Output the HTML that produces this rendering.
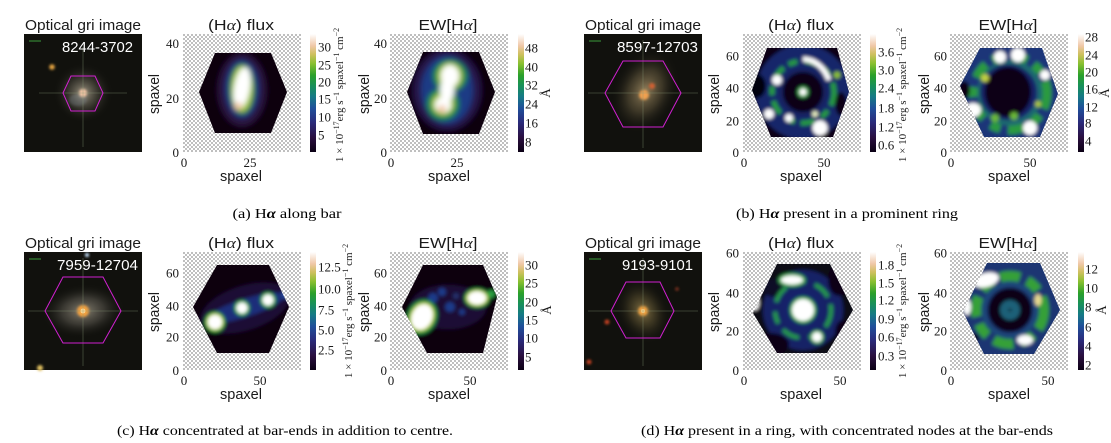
<!DOCTYPE html>
<html><head><meta charset="utf-8"><style>
html,body{margin:0;padding:0;background:#fff;}
svg{display:block;}
.ti{font-family:"Liberation Sans",sans-serif;font-size:14.5px;fill:#1a1a1a;}
.al{font-family:"Liberation Serif",serif;font-style:italic;}
.alb{font-family:"Liberation Serif",serif;font-style:italic;font-weight:bold;}
.tk{font-family:"Liberation Serif",serif;font-size:13px;fill:#1a1a1a;}
.cb{font-family:"Liberation Serif",serif;font-size:11px;fill:#1a1a1a;}
.cap{font-family:"Liberation Serif",serif;font-size:14px;fill:#000;}
.id{font-family:"Liberation Sans",sans-serif;font-size:14.5px;fill:#fff;}
</style></head><body>
<svg width="1111" height="443" viewBox="0 0 1111 443" xmlns="http://www.w3.org/2000/svg">
<defs>
<pattern id="chk" width="4" height="4" patternUnits="userSpaceOnUse"><rect width="4" height="4" fill="#fff"/><rect width="2" height="2" fill="#bfbfbf"/><rect x="2" y="2" width="2" height="2" fill="#bfbfbf"/></pattern>
<linearGradient id="cmap" x1="0" y1="1" x2="0" y2="0">
<stop offset="0" stop-color="#0b0014"/><stop offset="0.12" stop-color="#2a0f3f"/><stop offset="0.25" stop-color="#2a2a7a"/><stop offset="0.37" stop-color="#1f4f9a"/><stop offset="0.47" stop-color="#157a85"/><stop offset="0.56" stop-color="#18905a"/><stop offset="0.65" stop-color="#2aa02a"/><stop offset="0.75" stop-color="#8ac030"/><stop offset="0.83" stop-color="#d0c060"/><stop offset="0.9" stop-color="#f0c8a8"/><stop offset="1" stop-color="#ffffff"/>
</linearGradient>
<radialGradient id="gA"><stop offset="0" stop-color="#a49c88" stop-opacity="0.95"/><stop offset="0.45" stop-color="#5e5a4e" stop-opacity="0.6"/><stop offset="1" stop-color="#11110d" stop-opacity="0"/></radialGradient>
<radialGradient id="gB"><stop offset="0" stop-color="#9a8660" stop-opacity="0.95"/><stop offset="0.5" stop-color="#5a5038" stop-opacity="0.6"/><stop offset="1" stop-color="#11110d" stop-opacity="0"/></radialGradient>
<radialGradient id="gC"><stop offset="0" stop-color="#8e8878" stop-opacity="0.95"/><stop offset="0.5" stop-color="#55524a" stop-opacity="0.6"/><stop offset="1" stop-color="#11110d" stop-opacity="0"/></radialGradient>
<radialGradient id="gD"><stop offset="0" stop-color="#8a7848" stop-opacity="0.95"/><stop offset="0.5" stop-color="#4a4228" stop-opacity="0.6"/><stop offset="1" stop-color="#11110d" stop-opacity="0"/></radialGradient>
<filter id="b1" x="-50%" y="-50%" width="200%" height="200%"><feGaussianBlur stdDeviation="1.2"/></filter>
<filter id="b2" x="-20%" y="-20%" width="140%" height="140%"><feGaussianBlur stdDeviation="1.8"/></filter>
<filter id="b3" x="-20%" y="-20%" width="140%" height="140%"><feGaussianBlur stdDeviation="2.6"/></filter>
<clipPath id="hA1"><polygon points="32,19 88,19 104,58 88,99 32,99 16,58"/></clipPath>
<clipPath id="hA2"><polygon points="33,18 89,18 105,58 89,100 33,100 17,58"/></clipPath>
<clipPath id="hB1"><polygon points="24,14 94,14 106,58 90,103 28,103 9,56"/></clipPath>
<clipPath id="hB2"><polygon points="30,14 92,14 108,60 90,103 34,103 10,52"/></clipPath>
<clipPath id="hC1"><polygon points="34,13 86,13 106,55 86,101 34,101 10,55"/></clipPath>
<clipPath id="hC2"><polygon points="33,13 93,13 107,45 93,101 37,101 12,55"/></clipPath>
<clipPath id="hD1"><polygon points="34,12 87,12 110,58 84,101 34,101 10,61"/></clipPath>
<clipPath id="hD2"><polygon points="37,11 90,11 110,58 84,102 34,102 13,60"/></clipPath>
</defs>
<rect width="1111" height="443" fill="#fff"/>

<!-- ================= PANEL A ================= -->
<g>
<text class="ti" x="83" y="30" text-anchor="middle" textLength="116" lengthAdjust="spacingAndGlyphs">Optical gri image</text>
<rect x="24" y="34" width="118" height="118" fill="#11110d"/>
<circle cx="83" cy="93" r="30" fill="url(#gA)"/>
<ellipse cx="78" cy="100" rx="9" ry="6" fill="#8898a8" opacity="0.25" filter="url(#b1)"/>
<circle cx="83" cy="93" r="4" fill="#f2c4a4" filter="url(#b1)"/>
<circle cx="52" cy="67" r="2.8" fill="#e0a040" filter="url(#b1)"/>
<line x1="39" y1="93" x2="127" y2="93" stroke="#8a9a78" stroke-width="0.8" opacity="0.45"/>
<line x1="83" y1="47" x2="83" y2="147" stroke="#8a9a78" stroke-width="0.8" opacity="0.45"/>
<polygon points="63,93 71,76 95,76 103,93 95,111 71,111" fill="none" stroke="#d020d0" stroke-width="1"/>
<line x1="29" y1="41" x2="41" y2="41" stroke="#3a9a3a" stroke-width="1"/>
<text class="id" x="133" y="52" text-anchor="end" textLength="71" lengthAdjust="spacingAndGlyphs">8244-3702</text>

<text class="ti" x="241" y="30" text-anchor="middle" textLength="66" lengthAdjust="spacingAndGlyphs">(H<tspan class="al">α</tspan>) flux</text>
<g transform="translate(183,34)">
<rect width="118" height="118" fill="url(#chk)"/>
<g clip-path="url(#hA1)"><g filter="url(#b3)">
<rect x="-10" y="-10" width="140" height="140" fill="#0d0511"/>
<ellipse cx="59" cy="56" rx="24" ry="36" fill="#2b1240"/>
<ellipse cx="59" cy="55" rx="17" ry="29" fill="#1d3582"/>
<ellipse cx="59" cy="55" rx="12.5" ry="25" fill="#1f8a3c"/>
<ellipse cx="59" cy="55" rx="10.5" ry="23" fill="#a8c83a"/>
<ellipse cx="59" cy="54" rx="8" ry="21" fill="#fff" transform="rotate(10 59 54)"/>
<circle cx="55" cy="72" r="4" fill="#f0c8a8"/>
</g></g>
</g>
<text class="tk" x="179" y="157" text-anchor="end">0</text>
<text class="tk" x="179" y="103" text-anchor="end">20</text>
<text class="tk" x="179" y="48" text-anchor="end">40</text>
<text class="tk" x="184" y="167" text-anchor="middle">0</text>
<text class="tk" x="250" y="167" text-anchor="middle">25</text>
<text class="ti" x="241" y="181" text-anchor="middle" textLength="42" lengthAdjust="spacingAndGlyphs">spaxel</text>
<text class="ti" transform="translate(159,94) rotate(-90)" text-anchor="middle" textLength="40" lengthAdjust="spacingAndGlyphs">spaxel</text>
<rect x="310" y="34" width="6" height="118" fill="url(#cmap)"/>
<text class="tk" x="318" y="51.5">30</text><text class="tk" x="318" y="69.5">25</text><text class="tk" x="318" y="86.5">20</text><text class="tk" x="318" y="103.5">15</text><text class="tk" x="318" y="121.5">10</text><text class="tk" x="318" y="139.5">5</text>
<text class="cb" transform="translate(343,95) rotate(-90)" text-anchor="middle">1 × 10<tspan dy="-4" font-size="8">−17</tspan><tspan dy="4">erg s</tspan><tspan dy="-4" font-size="8">−1</tspan><tspan dy="4"> spaxel</tspan><tspan dy="-4" font-size="8">−1</tspan><tspan dy="4"> cm</tspan><tspan dy="-4" font-size="8">−2</tspan></text>

<text class="ti" x="448" y="30" text-anchor="middle" textLength="59" lengthAdjust="spacingAndGlyphs">EW[H<tspan class="al">α</tspan>]</text>
<g transform="translate(390,34)">
<rect width="118" height="118" fill="url(#chk)"/>
<g clip-path="url(#hA2)"><g filter="url(#b3)">
<rect x="-10" y="-10" width="140" height="140" fill="#0d0511"/>
<ellipse cx="57" cy="56" rx="34" ry="40" fill="#25154a"/>
<ellipse cx="57" cy="56" rx="26" ry="34" fill="#1d3a85"/>
<ellipse cx="60" cy="42" rx="17" ry="16" fill="#1f8f45"/>
<ellipse cx="53" cy="70" rx="16" ry="16" fill="#1f8f45"/>
<ellipse cx="60" cy="42" rx="12" ry="13" fill="#b0c840"/>
<ellipse cx="53" cy="70" rx="11" ry="11" fill="#b0c840"/>
<ellipse cx="60" cy="42" rx="9" ry="11" fill="#fff"/>
<ellipse cx="53" cy="71" rx="8" ry="8" fill="#fff"/>
<ellipse cx="57" cy="56" rx="7" ry="12" fill="#fff"/>
<circle cx="52" cy="75" r="4" fill="#f0c8a8"/>
</g></g>
</g>
<text class="tk" x="387" y="157" text-anchor="end">0</text>
<text class="tk" x="387" y="103" text-anchor="end">20</text>
<text class="tk" x="387" y="48" text-anchor="end">40</text>
<text class="tk" x="391" y="167" text-anchor="middle">0</text>
<text class="tk" x="457" y="167" text-anchor="middle">25</text>
<text class="ti" x="449" y="181" text-anchor="middle" textLength="42" lengthAdjust="spacingAndGlyphs">spaxel</text>
<text class="ti" transform="translate(369,94) rotate(-90)" text-anchor="middle" textLength="40" lengthAdjust="spacingAndGlyphs">spaxel</text>
<rect x="518" y="34" width="6" height="118" fill="url(#cmap)"/>
<text class="tk" x="525" y="52.5">48</text><text class="tk" x="525" y="71.5">40</text><text class="tk" x="525" y="89.5">32</text><text class="tk" x="525" y="108.5">24</text><text class="tk" x="525" y="127.5">16</text><text class="tk" x="525" y="146.5">8</text>
<text class="tk" transform="translate(550,93) rotate(-90)" text-anchor="middle">Å</text>

<text class="cap" x="287" y="218" text-anchor="middle" textLength="109" lengthAdjust="spacingAndGlyphs">(a) H<tspan class="alb">α</tspan> along bar</text>
</g>

<!-- ================= PANEL B ================= -->
<g transform="translate(560,0)">
<text class="ti" x="83" y="30" text-anchor="middle" textLength="116" lengthAdjust="spacingAndGlyphs">Optical gri image</text>
<rect x="24" y="34" width="118" height="118" fill="#11110d"/>
<ellipse cx="85" cy="91" rx="32" ry="44" fill="url(#gB)" transform="rotate(25 85 91)"/>
<circle cx="84" cy="95" r="5" fill="#f0a050" filter="url(#b1)"/>
<circle cx="92" cy="86" r="3" fill="#d06030" filter="url(#b1)"/>
<line x1="28" y1="93" x2="138" y2="93" stroke="#8a9a78" stroke-width="0.8" opacity="0.45"/>
<line x1="83" y1="40" x2="83" y2="148" stroke="#8a9a78" stroke-width="0.8" opacity="0.45"/>
<polygon points="45,93 63,61 103,61 121,93 103,127 63,127" fill="none" stroke="#d020d0" stroke-width="1"/>
<line x1="29" y1="41" x2="41" y2="41" stroke="#3a9a3a" stroke-width="1"/>
<text class="id" x="138" y="52" text-anchor="end" textLength="81" lengthAdjust="spacingAndGlyphs">8597-12703</text>

<text class="ti" x="241" y="30" text-anchor="middle" textLength="66" lengthAdjust="spacingAndGlyphs">(H<tspan class="al">α</tspan>) flux</text>
<g transform="translate(183,34)">
<rect width="118" height="118" fill="url(#chk)"/>
<g clip-path="url(#hB1)"><g filter="url(#b2)">
<rect x="-10" y="-10" width="140" height="140" fill="#0c0616"/>
<circle cx="60" cy="58" r="34" fill="none" stroke="#18266a" stroke-width="26"/>
<circle cx="60" cy="58" r="31" fill="none" stroke="#279a3f" stroke-width="5" stroke-dasharray="14 6 9 8"/>
<circle cx="60" cy="58" r="22" fill="none" stroke="#162460" stroke-width="4"/>
<circle cx="60" cy="58" r="20" fill="#0b0614"/>
<circle cx="60" cy="58" r="6" fill="#2a9a40"/>
<circle cx="60" cy="58" r="3.5" fill="#fff"/>
<path d="M 60 25 Q 78 26 86 46" fill="none" stroke="#fff" stroke-width="5"/>
<circle cx="34" cy="46" r="5" fill="#fff"/>
<circle cx="26" cy="80" r="5" fill="#fff"/>
<circle cx="46" cy="84" r="4" fill="#fff"/>
<circle cx="77" cy="94" r="7.5" fill="#fff"/>
<circle cx="94" cy="41" r="3.5" fill="#8ac030"/>
<circle cx="72" cy="80" r="3" fill="#e8f0c0"/>
<ellipse cx="14" cy="52" rx="9" ry="12" fill="#05020a"/>
<ellipse cx="98" cy="70" rx="6" ry="12" fill="#0c0616"/>
</g></g>
</g>
<text class="tk" x="179" y="157" text-anchor="end">0</text>
<text class="tk" x="179" y="125.5" text-anchor="end">20</text>
<text class="tk" x="179" y="92.5" text-anchor="end">40</text>
<text class="tk" x="179" y="60.5" text-anchor="end">60</text>
<text class="tk" x="184" y="167" text-anchor="middle">0</text>
<text class="tk" x="264" y="167" text-anchor="middle">50</text>
<text class="ti" x="241" y="181" text-anchor="middle" textLength="42" lengthAdjust="spacingAndGlyphs">spaxel</text>
<text class="ti" transform="translate(159,94) rotate(-90)" text-anchor="middle" textLength="40" lengthAdjust="spacingAndGlyphs">spaxel</text>
<rect x="310" y="34" width="6" height="118" fill="url(#cmap)"/>
<text class="tk" x="318" y="56.5">3.6</text><text class="tk" x="318" y="74.5">3.0</text><text class="tk" x="318" y="92.5">2.4</text><text class="tk" x="318" y="112.5">1.8</text><text class="tk" x="318" y="131.5">1.2</text><text class="tk" x="318" y="149.5">0.6</text>
<text class="cb" transform="translate(346,95) rotate(-90)" text-anchor="middle">1 × 10<tspan dy="-4" font-size="8">−17</tspan><tspan dy="4">erg s</tspan><tspan dy="-4" font-size="8">−1</tspan><tspan dy="4"> spaxel</tspan><tspan dy="-4" font-size="8">−1</tspan><tspan dy="4"> cm</tspan><tspan dy="-4" font-size="8">−2</tspan></text>

<text class="ti" x="448" y="30" text-anchor="middle" textLength="59" lengthAdjust="spacingAndGlyphs">EW[H<tspan class="al">α</tspan>]</text>
<g transform="translate(390,34)">
<rect width="118" height="118" fill="url(#chk)"/>
<g clip-path="url(#hB2)"><g filter="url(#b2)">
<rect x="-10" y="-10" width="140" height="140" fill="#1a3478"/>
<circle cx="60" cy="59" r="37" fill="none" stroke="#2a9a40" stroke-width="9" stroke-dasharray="16 8 10 10"/>
<circle cx="60" cy="59" r="30" fill="none" stroke="#1e6a70" stroke-width="5"/>
<circle cx="58" cy="58" r="28" fill="#182266"/>
<ellipse cx="58" cy="58" rx="23" ry="25" fill="#0c0614"/>
<circle cx="50" cy="23" r="6" fill="#fff"/>
<circle cx="68" cy="21" r="7" fill="#fff"/>
<circle cx="95" cy="41" r="5" fill="#fff"/>
<ellipse cx="23" cy="76" rx="8" ry="7" fill="#fff"/>
<circle cx="80" cy="94" r="7" fill="#fff"/>
<circle cx="35" cy="44" r="4" fill="#c0d040"/>
<circle cx="64" cy="82" r="4" fill="#6ab838"/>
<circle cx="45" cy="84" r="4" fill="#6ab838"/>
<circle cx="88" cy="70" r="3" fill="#b0c840"/>
<ellipse cx="14" cy="56" rx="6" ry="9" fill="#0c0614"/>
</g></g>
</g>
<text class="tk" x="387" y="157" text-anchor="end">0</text>
<text class="tk" x="387" y="125.5" text-anchor="end">20</text>
<text class="tk" x="387" y="92.5" text-anchor="end">40</text>
<text class="tk" x="387" y="60.5" text-anchor="end">60</text>
<text class="tk" x="391" y="167" text-anchor="middle">0</text>
<text class="tk" x="470" y="167" text-anchor="middle">50</text>
<text class="ti" x="449" y="181" text-anchor="middle" textLength="42" lengthAdjust="spacingAndGlyphs">spaxel</text>
<text class="ti" transform="translate(369,94) rotate(-90)" text-anchor="middle" textLength="40" lengthAdjust="spacingAndGlyphs">spaxel</text>
<rect x="518" y="34" width="6" height="118" fill="url(#cmap)"/>
<text class="tk" x="525" y="41.5">28</text><text class="tk" x="525" y="59.5">24</text><text class="tk" x="525" y="76.5">20</text><text class="tk" x="525" y="93.5">16</text><text class="tk" x="525" y="111.5">12</text><text class="tk" x="525" y="127.5">8</text><text class="tk" x="525" y="145.5">4</text>
<text class="tk" transform="translate(549,93) rotate(-90)" text-anchor="middle">Å</text>

<text class="cap" x="287" y="218" text-anchor="middle" textLength="222" lengthAdjust="spacingAndGlyphs">(b) H<tspan class="alb">α</tspan> present in a prominent ring</text>
</g>

<!-- ================= PANEL C ================= -->
<g transform="translate(0,218)">
<text class="ti" x="83" y="30" text-anchor="middle" textLength="116" lengthAdjust="spacingAndGlyphs">Optical gri image</text>
<rect x="24" y="34" width="118" height="118" fill="#11110d"/>
<ellipse cx="83" cy="93" rx="42" ry="27" fill="url(#gC)" transform="rotate(-5 83 93)"/>
<circle cx="83" cy="93" r="6" fill="#f0a040" filter="url(#b1)"/>
<circle cx="83" cy="93" r="2.5" fill="#ffd890"/>
<circle cx="87" cy="37" r="2" fill="#c8e4ff" filter="url(#b1)"/>
<circle cx="40" cy="150" r="3" fill="#e0c060" filter="url(#b1)"/>
<line x1="28" y1="93" x2="138" y2="93" stroke="#8a9a78" stroke-width="0.8" opacity="0.45"/>
<line x1="83" y1="40" x2="83" y2="148" stroke="#8a9a78" stroke-width="0.8" opacity="0.45"/>
<polygon points="45,93 63,59 103,59 121,93 103,125 63,125" fill="none" stroke="#d020d0" stroke-width="1"/>
<line x1="29" y1="41" x2="41" y2="41" stroke="#3a9a3a" stroke-width="1"/>
<text class="id" x="138" y="52" text-anchor="end" textLength="81" lengthAdjust="spacingAndGlyphs">7959-12704</text>

<text class="ti" x="241" y="30" text-anchor="middle" textLength="66" lengthAdjust="spacingAndGlyphs">(H<tspan class="al">α</tspan>) flux</text>
<g transform="translate(183,34)">
<rect width="118" height="118" fill="url(#chk)"/>
<g clip-path="url(#hC1)"><g filter="url(#b2)">
<rect x="-10" y="-10" width="140" height="140" fill="#0d0511"/>
<ellipse cx="62" cy="56" rx="46" ry="22" fill="#1e0e36" transform="rotate(-18 62 56)"/>
<ellipse cx="62" cy="56" rx="42" ry="9" fill="#1b2e7a" transform="rotate(-18 62 56)"/>
<circle cx="32" cy="70" r="10.5" fill="#1f9a40"/>
<circle cx="32" cy="70" r="8.5" fill="#c0d040"/>
<circle cx="32" cy="70" r="7" fill="#fff"/>
<circle cx="59" cy="56" r="8" fill="#1f9a40"/>
<circle cx="59" cy="56" r="5.5" fill="#fff"/>
<circle cx="85" cy="48" r="8" fill="#1f9a40"/>
<circle cx="85" cy="48" r="5.5" fill="#fff"/>
<circle cx="104" cy="42" r="5" fill="#2a50a0"/>
</g></g>
</g>
<text class="tk" x="179" y="157" text-anchor="end">0</text>
<text class="tk" x="179" y="123.5" text-anchor="end">20</text>
<text class="tk" x="179" y="92.5" text-anchor="end">40</text>
<text class="tk" x="179" y="59.5" text-anchor="end">60</text>
<text class="tk" x="184" y="167" text-anchor="middle">0</text>
<text class="tk" x="260" y="167" text-anchor="middle">50</text>
<text class="ti" x="241" y="181" text-anchor="middle" textLength="42" lengthAdjust="spacingAndGlyphs">spaxel</text>
<text class="ti" transform="translate(159,94) rotate(-90)" text-anchor="middle" textLength="40" lengthAdjust="spacingAndGlyphs">spaxel</text>
<rect x="310" y="34" width="6" height="118" fill="url(#cmap)"/>
<text class="tk" x="318" y="53.5">12.5</text><text class="tk" x="318" y="75.5">10.0</text><text class="tk" x="318" y="96.5">7.5</text><text class="tk" x="318" y="116.5">5.0</text><text class="tk" x="318" y="136.5">2.5</text>
<text class="cb" transform="translate(352,93) rotate(-90)" text-anchor="middle">1 × 10<tspan dy="-4" font-size="8">−17</tspan><tspan dy="4">erg s</tspan><tspan dy="-4" font-size="8">−1</tspan><tspan dy="4"> spaxel</tspan><tspan dy="-4" font-size="8">−1</tspan><tspan dy="4"> cm</tspan><tspan dy="-4" font-size="8">−2</tspan></text>

<text class="ti" x="448" y="30" text-anchor="middle" textLength="59" lengthAdjust="spacingAndGlyphs">EW[H<tspan class="al">α</tspan>]</text>
<g transform="translate(390,34)">
<rect width="118" height="118" fill="url(#chk)"/>
<g clip-path="url(#hC2)"><g filter="url(#b2)">
<rect x="-10" y="-10" width="140" height="140" fill="#0d0511"/>
<ellipse cx="58" cy="55" rx="38" ry="22" fill="#1c0e34"/>
<circle cx="43" cy="46" r="5" fill="#1d3a8a"/>
<circle cx="60" cy="55" r="5" fill="#1d3a8a"/>
<circle cx="52" cy="40" r="4" fill="#1d3a8a"/>
<circle cx="72" cy="60" r="3" fill="#1d3a8a"/>
<circle cx="66" cy="44" r="3" fill="#22306e"/>
<ellipse cx="32" cy="65" rx="15" ry="18" fill="#1f8f45" transform="rotate(25 32 65)"/>
<ellipse cx="32" cy="65" rx="12" ry="15" fill="#c0d040" transform="rotate(25 32 65)"/>
<ellipse cx="32" cy="65" rx="10" ry="13" fill="#fff" transform="rotate(25 32 65)"/>
<ellipse cx="87" cy="46" rx="13" ry="10" fill="#1f8f45"/>
<ellipse cx="87" cy="46" rx="11" ry="8" fill="#c0d040"/>
<ellipse cx="87" cy="46" rx="9" ry="6.5" fill="#fff"/>
<circle cx="101" cy="42" r="4" fill="#2aa040"/>
</g></g>
</g>
<text class="tk" x="387" y="157" text-anchor="end">0</text>
<text class="tk" x="387" y="123.5" text-anchor="end">20</text>
<text class="tk" x="387" y="92.5" text-anchor="end">40</text>
<text class="tk" x="387" y="59.5" text-anchor="end">60</text>
<text class="tk" x="391" y="167" text-anchor="middle">0</text>
<text class="tk" x="470" y="167" text-anchor="middle">50</text>
<text class="ti" x="449" y="181" text-anchor="middle" textLength="42" lengthAdjust="spacingAndGlyphs">spaxel</text>
<text class="ti" transform="translate(369,94) rotate(-90)" text-anchor="middle" textLength="40" lengthAdjust="spacingAndGlyphs">spaxel</text>
<rect x="518" y="34" width="6" height="118" fill="url(#cmap)"/>
<text class="tk" x="525" y="51.5">30</text><text class="tk" x="525" y="69.5">25</text><text class="tk" x="525" y="88.5">20</text><text class="tk" x="525" y="106.5">15</text><text class="tk" x="525" y="124.5">10</text><text class="tk" x="525" y="143.5">5</text>
<text class="tk" transform="translate(551,92) rotate(-90)" text-anchor="middle">Å</text>

<text class="cap" x="285" y="217" text-anchor="middle" textLength="336" lengthAdjust="spacingAndGlyphs">(c) H<tspan class="alb">α</tspan> concentrated at bar-ends in addition to centre.</text>
</g>

<!-- ================= PANEL D ================= -->
<g transform="translate(560,218)">
<text class="ti" x="83" y="30" text-anchor="middle" textLength="116" lengthAdjust="spacingAndGlyphs">Optical gri image</text>
<rect x="24" y="34" width="118" height="118" fill="#11110d"/>
<ellipse cx="83" cy="93" rx="26" ry="34" fill="url(#gD)" transform="rotate(-25 83 93)"/>
<circle cx="83" cy="93" r="5" fill="#f0a040" filter="url(#b1)"/>
<circle cx="83" cy="93" r="2" fill="#ffd080"/>
<circle cx="47" cy="104" r="2.5" fill="#c04020" filter="url(#b1)"/>
<circle cx="29" cy="144" r="2.5" fill="#c04020" filter="url(#b1)"/>
<circle cx="117" cy="71" r="1.8" fill="#803020" filter="url(#b1)"/>
<line x1="28" y1="93" x2="138" y2="93" stroke="#8a9a78" stroke-width="0.8" opacity="0.45"/>
<line x1="83" y1="40" x2="83" y2="148" stroke="#8a9a78" stroke-width="0.8" opacity="0.45"/>
<polygon points="51,93 66,64 100,64 114,93 100,120 66,120" fill="none" stroke="#d020d0" stroke-width="1"/>
<line x1="29" y1="41" x2="41" y2="41" stroke="#3a9a3a" stroke-width="1"/>
<text class="id" x="133" y="52" text-anchor="end" textLength="71" lengthAdjust="spacingAndGlyphs">9193-9101</text>

<text class="ti" x="241" y="30" text-anchor="middle" textLength="66" lengthAdjust="spacingAndGlyphs">(H<tspan class="al">α</tspan>) flux</text>
<g transform="translate(183,34)">
<rect width="118" height="118" fill="url(#chk)"/>
<g clip-path="url(#hD1)"><g filter="url(#b2)">
<rect x="-10" y="-10" width="140" height="140" fill="#0d0716"/>
<circle cx="60" cy="58" r="40" fill="#182466"/>
<ellipse cx="28" cy="92" rx="18" ry="11" fill="#0c0614"/>
<ellipse cx="96" cy="28" rx="11" ry="16" fill="#0c0614"/>
<ellipse cx="30" cy="36" rx="10" ry="9" fill="#100826"/>
<ellipse cx="100" cy="80" rx="8" ry="12" fill="#0c0614"/>
<circle cx="60" cy="58" r="28" fill="none" stroke="#279a4a" stroke-width="4" stroke-dasharray="18 8 12 10"/>
<circle cx="60" cy="58" r="21" fill="#14206a"/>
<circle cx="60" cy="58" r="13.5" fill="#2aa040"/>
<circle cx="60" cy="58" r="11" fill="#fff"/>
<ellipse cx="49" cy="28" rx="14" ry="7" fill="#2aa040"/>
<ellipse cx="49" cy="28" rx="11" ry="4.5" fill="#fff"/>
<circle cx="74" cy="85" r="7" fill="#2aa040"/>
<circle cx="74" cy="85" r="5" fill="#fff"/>
<ellipse cx="12" cy="51" rx="4" ry="7" fill="#fff"/>
</g></g>
</g>
<text class="tk" x="179" y="157" text-anchor="end">0</text>
<text class="tk" x="179" y="117.5" text-anchor="end">20</text>
<text class="tk" x="179" y="79.5" text-anchor="end">40</text>
<text class="tk" x="179" y="39.5" text-anchor="end">60</text>
<text class="tk" x="184" y="167" text-anchor="middle">0</text>
<text class="tk" x="280" y="167" text-anchor="middle">50</text>
<text class="ti" x="241" y="181" text-anchor="middle" textLength="42" lengthAdjust="spacingAndGlyphs">spaxel</text>
<text class="ti" transform="translate(159,94) rotate(-90)" text-anchor="middle" textLength="40" lengthAdjust="spacingAndGlyphs">spaxel</text>
<rect x="310" y="34" width="6" height="118" fill="url(#cmap)"/>
<text class="tk" x="318" y="51.5">1.8</text><text class="tk" x="318" y="69.5">1.5</text><text class="tk" x="318" y="86.5">1.2</text><text class="tk" x="318" y="105.5">0.9</text><text class="tk" x="318" y="123.5">0.6</text><text class="tk" x="318" y="142.5">0.3</text>
<text class="cb" transform="translate(346,93) rotate(-90)" text-anchor="middle">1 × 10<tspan dy="-4" font-size="8">−17</tspan><tspan dy="4">erg s</tspan><tspan dy="-4" font-size="8">−1</tspan><tspan dy="4"> spaxel</tspan><tspan dy="-4" font-size="8">−1</tspan><tspan dy="4"> cm</tspan><tspan dy="-4" font-size="8">−2</tspan></text>

<text class="ti" x="448" y="30" text-anchor="middle" textLength="59" lengthAdjust="spacingAndGlyphs">EW[H<tspan class="al">α</tspan>]</text>
<g transform="translate(390,34)">
<rect width="118" height="118" fill="url(#chk)"/>
<g clip-path="url(#hD2)"><g filter="url(#b2)">
<rect x="-10" y="-10" width="140" height="140" fill="#1a3472"/>
<circle cx="60" cy="58" r="34" fill="none" stroke="#34a038" stroke-width="10" stroke-dasharray="20 8 14 8"/>
<circle cx="60" cy="58" r="26" fill="none" stroke="#1c4a7a" stroke-width="4"/>
<circle cx="60" cy="58" r="22" fill="#0c0614"/>
<circle cx="60" cy="58" r="10" fill="#1a6078"/>
<circle cx="60" cy="58" r="1.5" fill="#0c0614"/>
<ellipse cx="36" cy="28" rx="13" ry="7" fill="#fff" transform="rotate(-15 36 28)"/>
<ellipse cx="75" cy="88" rx="8" ry="5" fill="#fff"/>
<ellipse cx="17" cy="55" rx="4" ry="8" fill="#fff"/>
<ellipse cx="88" cy="48" rx="3.5" ry="6" fill="#e8d890"/>
<ellipse cx="22" cy="86" rx="7" ry="5" fill="#0c0614"/>
</g></g>
</g>
<text class="tk" x="387" y="157" text-anchor="end">0</text>
<text class="tk" x="387" y="117.5" text-anchor="end">20</text>
<text class="tk" x="387" y="79.5" text-anchor="end">40</text>
<text class="tk" x="387" y="39.5" text-anchor="end">60</text>
<text class="tk" x="391" y="167" text-anchor="middle">0</text>
<text class="tk" x="488" y="167" text-anchor="middle">50</text>
<text class="ti" x="449" y="181" text-anchor="middle" textLength="42" lengthAdjust="spacingAndGlyphs">spaxel</text>
<text class="ti" transform="translate(369,94) rotate(-90)" text-anchor="middle" textLength="40" lengthAdjust="spacingAndGlyphs">spaxel</text>
<rect x="518" y="34" width="6" height="118" fill="url(#cmap)"/>
<text class="tk" x="525" y="55.5">12</text><text class="tk" x="525" y="74.5">10</text><text class="tk" x="525" y="93.5">8</text><text class="tk" x="525" y="113.5">6</text><text class="tk" x="525" y="132.5">4</text><text class="tk" x="525" y="151.5">2</text>
<text class="tk" transform="translate(546,92) rotate(-90)" text-anchor="middle">Å</text>

<text class="cap" x="287" y="217" text-anchor="middle" textLength="412" lengthAdjust="spacingAndGlyphs">(d) H<tspan class="alb">α</tspan> present in a ring, with concentrated nodes at the bar-ends</text>
</g>
</svg>
</body></html>
